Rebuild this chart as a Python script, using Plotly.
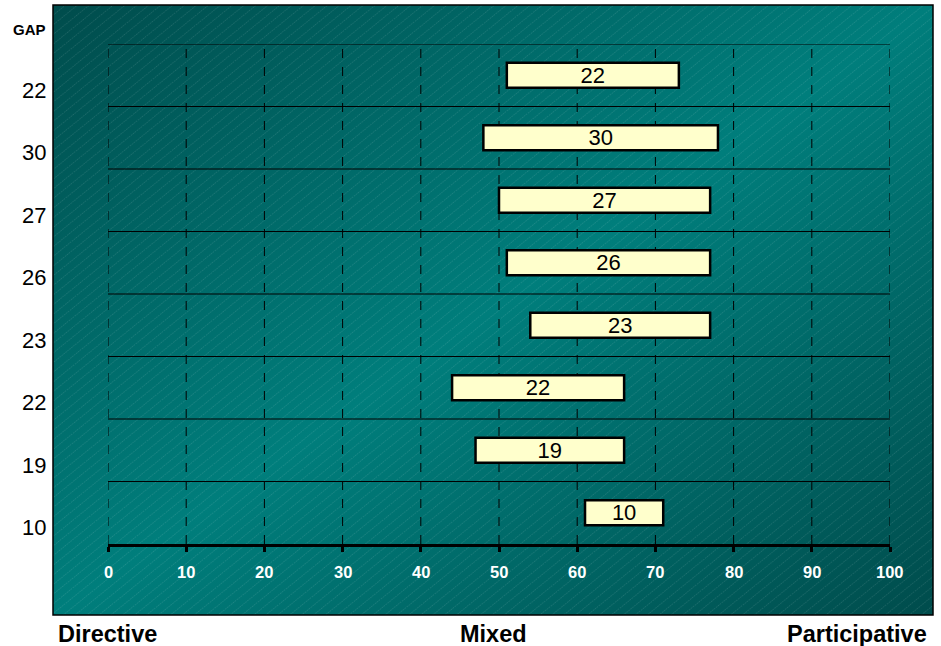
import base64
import plotly.graph_objects as go

# Leadership-style ranges per row (top to bottom): start of range and gap width
row_gaps = [22, 30, 27, 26, 23, 22, 19, 10]
row_starts = [51, 48, 50, 51, 54, 44, 47, 61]
x_ticks = [0, 10, 20, 30, 40, 50, 60, 70, 80, 90, 100]
scale_labels = ["Directive", "Mixed", "Participative"]

W, H = 941, 646
FONT = "Arial, Liberation Sans, sans-serif"

n = len(row_gaps)
ypos = [n - 1 - i for i in range(n)]

# plot area in pixels
px_l, px_r, px_t, px_b = 108, 890, 44, 544
# background panel in pixels
pl, pr, pt, pb = 53, 933, 5, 615
pw, ph = pr - pl, pb - pt
# centres of the scale captions below the panel
scale_px = [107, 493, 857]

svg = f"""<svg xmlns='http://www.w3.org/2000/svg' width='{pw}' height='{ph}' viewBox='0 0 {pw} {ph}'>
<defs>
<linearGradient id='g' x1='0' y1='0' x2='1' y2='1'>
<stop offset='0' stop-color='#004c4c'/>
<stop offset='0.5' stop-color='#007e7c'/>
<stop offset='1' stop-color='#004c4c'/>
</linearGradient>
<pattern id='h' width='7.5' height='7.5' patternUnits='userSpaceOnUse' patternTransform='rotate(51)'>
<line x1='0' y1='0' x2='0' y2='7.5' stroke='#ffffff' stroke-opacity='0.3' stroke-width='0.7' stroke-dasharray='1.5,1'/>
</pattern>
</defs>
<rect width='{pw}' height='{ph}' fill='url(#g)'/>
<rect width='{pw}' height='{ph}' fill='url(#h)'/>
</svg>"""
svg_uri = "data:image/svg+xml;base64," + base64.b64encode(svg.encode()).decode()

fig = go.Figure()
fig.add_trace(go.Bar(
    y=ypos,
    x=row_gaps,
    base=row_starts,
    orientation="h",
    width=0.4,
    marker=dict(color="#ffffcc", line=dict(color="black", width=2.5)),
    text=[str(g) for g in row_gaps],
    textposition="inside",
    insidetextanchor="middle",
    constraintext="none",
    textangle=0,
    textfont=dict(family=FONT, size=22, color="black"),
    hoverinfo="skip",
))

shapes = []
# horizontal row separators
for k in range(1, n + 1):
    yv = k - 0.5
    shapes.append(dict(type="line", xref="x", yref="y", x0=0, x1=100, y0=yv, y1=yv,
                       line=dict(color="black", width=1), layer="below"))
# vertical dashed grid
for t in x_ticks:
    shapes.append(dict(type="line", xref="x", yref="y", x0=t, x1=t, y0=-0.5, y1=n - 0.5,
                       line=dict(color="black", width=1, dash="dash"), layer="below"))
# panel border
shapes.append(dict(type="rect", xref="paper", yref="paper",
                   x0=pl / W, x1=pr / W, y0=1 - pb / H, y1=1 - pt / H,
                   line=dict(color="black", width=1.5), fillcolor="rgba(0,0,0,0)", layer="below"))

annotations = []
for yv, g in zip(ypos, row_gaps):
    annotations.append(dict(x=48 / W, xref="paper", xanchor="right", y=yv, yref="y",
                            yshift=-15, text=str(g), showarrow=False,
                            font=dict(family=FONT, size=22, color="black")))
annotations.append(dict(x=29 / W, xref="paper", xanchor="center", y=1 - 30 / H, yref="paper",
                        yanchor="middle", text="<b>GAP</b>", showarrow=False,
                        font=dict(family=FONT, size=15, color="black")))
for lab, xp in zip(scale_labels, scale_px):
    annotations.append(dict(x=xp / W, xref="paper", xanchor="center", y=1 - 634 / H,
                            yref="paper", yanchor="middle", text=f"<b>{lab}</b>",
                            showarrow=False, font=dict(family=FONT, size=23.5, color="black")))
for t in x_ticks:
    annotations.append(dict(x=t, xref="x", xanchor="center", y=1 - 572 / H, yref="paper",
                            yanchor="middle", text=f"<b>{t}</b>", showarrow=False,
                            font=dict(family=FONT, size=16.5, color="white")))

fig.update_layout(
    width=W, height=H,
    margin=dict(l=0, r=0, t=0, b=0),
    paper_bgcolor="white",
    plot_bgcolor="rgba(0,0,0,0)",
    showlegend=False,
    images=[dict(source=svg_uri, xref="paper", yref="paper", x=pl / W, y=1 - pt / H,
                 sizex=pw / W, sizey=ph / H, sizing="stretch", xanchor="left", yanchor="top",
                 layer="below")],
    shapes=shapes,
    annotations=annotations,
    xaxis=dict(domain=[px_l / W, px_r / W], range=[0, 100], tickvals=x_ticks,
               showticklabels=False, showgrid=False, zeroline=False, showline=True,
               linecolor="black", linewidth=3, ticks="outside", ticklen=5, tickwidth=3,
               tickcolor="black", fixedrange=True),
    yaxis=dict(domain=[1 - px_b / H, 1 - px_t / H], range=[-0.5, n - 0.5],
               showticklabels=False, showgrid=False, zeroline=False, showline=False,
               fixedrange=True),
)

fig.write_html("out.html")
